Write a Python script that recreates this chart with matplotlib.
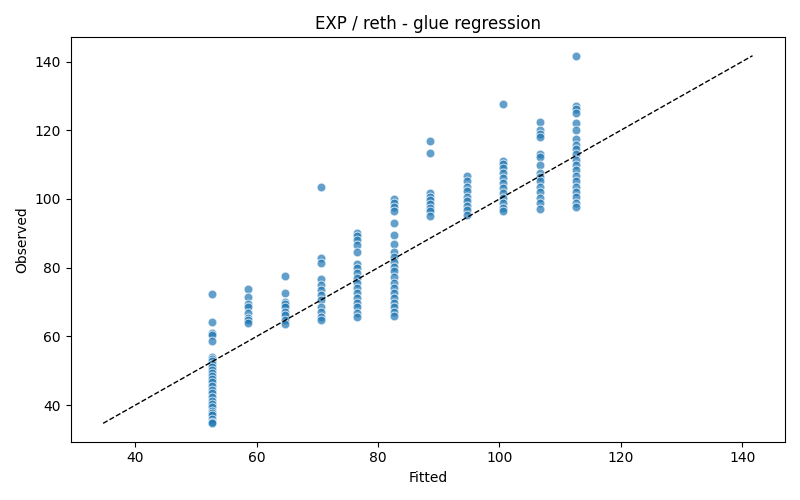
import numpy as np
import matplotlib
matplotlib.use("Agg")
import matplotlib.pyplot as plt

fitted_levels = [52.6, 58.6, 64.6, 70.6, 76.6, 82.6, 88.6, 94.6, 100.6, 106.6, 112.6]

obs_c1 = [72.3, 64.2, 61.1, 60.3, 58.7, 54.1, 53.4, 52.8, 52.0, 51.2, 50.2, 49.3, 48.5,
          47.5, 46.6, 45.6, 44.5, 43.6, 42.4, 41.3, 40.4, 39.4, 38.2, 37.6, 37.0, 36.0,
          35.2, 34.7]
obs_c2 = [73.7, 71.6, 69.4, 68.7, 66.7, 65.3, 64.8, 63.8]
obs_c3 = [77.6, 72.7, 70.1, 69.4, 68.7, 67.2, 66.2, 64.8, 63.5]
obs_c4 = [103.5, 82.8, 81.3, 76.6, 75.0, 73.5, 72.1, 70.6, 68.7, 67.2, 65.7, 64.8]
obs_c5 = [90.2, 89.1, 88.1, 86.6, 84.7, 81.1, 79.9, 78.4, 76.9, 75.5, 74.0, 72.7, 71.1,
          69.6, 68.5, 66.9, 65.7]
obs_c6 = [100.0, 98.8, 97.6, 96.4, 93.1, 89.6, 87.0, 84.7, 83.1, 81.8, 80.3, 78.9, 77.2,
          75.5, 74.0, 72.6, 71.1, 69.8, 68.5, 67.2, 65.9]
obs_c7 = [117.0, 113.4, 101.7, 100.7, 99.8, 98.6, 97.3, 96.4, 95.1]
obs_c8 = [106.8, 105.1, 103.6, 102.2, 100.7, 99.3, 98.1, 96.9, 95.4]
obs_c9 = [127.7, 111.2, 110.3, 109.0, 107.6, 106.1, 104.6, 103.2, 101.7, 100.3, 98.8,
          97.5, 96.4]
obs_c10 = [122.5, 120.0, 119.0, 118.0, 113.2, 112.2, 110.0, 107.6, 106.4, 105.1, 103.6,
           101.9, 100.3, 98.8, 97.1]
obs_c11 = [141.7, 127.2, 126.2, 125.0, 122.1, 120.2, 117.5, 115.8, 114.6, 113.2, 111.4,
           110.0, 108.3, 106.6, 105.1, 103.6, 101.9, 100.5, 98.8, 97.6]

observed_groups = [obs_c1, obs_c2, obs_c3, obs_c4, obs_c5, obs_c6, obs_c7, obs_c8,
                   obs_c9, obs_c10, obs_c11]

fitted = np.concatenate([[f] * len(g) for f, g in zip(fitted_levels, observed_groups)])
observed = np.concatenate([np.array(g) for g in observed_groups])

fig, ax = plt.subplots(figsize=(8, 5), dpi=100)
ax.scatter(fitted, observed, s=40, color="#1f77b4", alpha=0.7,
           edgecolors="white", linewidths=0.75)
lo = min(fitted.min(), observed.min())
hi = max(fitted.max(), observed.max())
ax.plot([lo, hi], [lo, hi], "k--", linewidth=1)
ax.set_title("EXP / reth - glue regression")
ax.set_xlabel("Fitted")
ax.set_ylabel("Observed")
fig.tight_layout()
fig.savefig("out.png", dpi=100)
